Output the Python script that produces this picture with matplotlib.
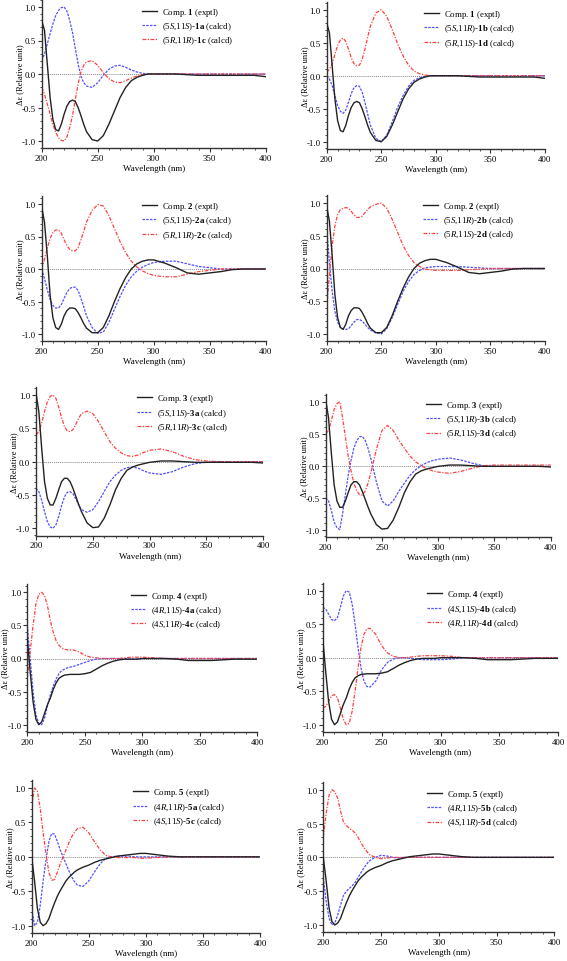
import numpy as np
import matplotlib.pyplot as plt
from matplotlib.ticker import MultipleLocator

plt.rcParams['font.family'] = ['Liberation Serif', 'DejaVu Serif']
plt.rcParams['mathtext.fontset'] = 'custom'
plt.rcParams['mathtext.rm'] = 'Liberation Serif'
plt.rcParams['mathtext.it'] = 'Liberation Serif:italic'
plt.rcParams['mathtext.bf'] = 'Liberation Serif:bold'
plt.rcParams['axes.unicode_minus'] = False

# wavelength grid (nm)
wl = np.array([200, 202.5, 205, 207.5, 210, 212.5, 215, 217.5, 220, 222.5, 225, 227.5, 230, 232.5, 235, 237.5, 240,
               245, 250, 255, 260, 265, 270, 275, 280, 285, 290, 295, 300,
               310, 320, 330, 340, 350, 360, 370, 380, 390, 400])

# experimental ECD curves
comp1 = [0.80, 0.65, 0.15, -0.35, -0.68, -0.83, -0.85, -0.75, -0.60, -0.48, -0.41, -0.39, -0.41, -0.50, -0.62, -0.75, -0.86,
         -0.98, -1.00, -0.92, -0.75, -0.55, -0.35, -0.20, -0.10, -0.05, -0.02, 0.00, 0.00,
         0.00, 0.00, -0.01, -0.02, -0.02, -0.02, -0.02, -0.02, -0.02, -0.04]
comp2 = [0.95, 0.72, 0.20, -0.40, -0.75, -0.90, -0.93, -0.85, -0.72, -0.64, -0.60, -0.60, -0.61, -0.67, -0.75, -0.84, -0.91,
         -0.98, -0.98, -0.90, -0.72, -0.50, -0.30, -0.13, 0.00, 0.08, 0.12, 0.14, 0.14,
         0.09, 0.02, -0.06, -0.08, -0.06, -0.04, -0.01, 0.00, 0.00, 0.00]
comp3 = [1.03, 0.75, 0.20, -0.30, -0.55, -0.65, -0.65, -0.55, -0.42, -0.30, -0.25, -0.25, -0.30, -0.40, -0.52, -0.64, -0.75,
         -0.92, -0.99, -0.98, -0.85, -0.65, -0.42, -0.25, -0.13, -0.08, -0.05, -0.03, -0.01,
         0.01, 0.01, 0.00, -0.01, -0.01, -0.01, -0.01, -0.01, -0.01, -0.02]
comp4 = [0.30, -0.20, -0.65, -0.92, -1.00, -0.96, -0.83, -0.70, -0.60, -0.47, -0.37, -0.30, -0.27, -0.25, -0.245, -0.24, -0.24,
         -0.24, -0.23, -0.21, -0.16, -0.11, -0.07, -0.04, -0.02, -0.01, -0.01, -0.01, 0.00,
         0.00, 0.00, -0.01, -0.03, -0.03, -0.03, -0.02, -0.01, -0.01, -0.01]
comp5 = [0.00, -0.35, -0.75, -0.95, -1.00, -0.97, -0.90, -0.78, -0.67, -0.57, -0.49, -0.42, -0.35, -0.30, -0.26, -0.22, -0.19,
         -0.15, -0.12, -0.08, -0.05, -0.03, -0.01, 0.01, 0.02, 0.03, 0.04, 0.05, 0.05,
         0.03, 0.01, 0.00, 0.00, 0.00, 0.00, 0.00, 0.00, 0.00, 0.00]

# calculated ECD curves
calc_1a = [0.20, 0.30, 0.45, 0.60, 0.75, 0.87, 0.95, 0.99, 1.00, 0.94, 0.80, 0.62, 0.38, 0.15, -0.03, -0.13, -0.18,
           -0.20, -0.13, -0.02, 0.07, 0.12, 0.13, 0.10, 0.06, 0.03, 0.01, 0.00, 0.00,
           0.00, 0.00, 0.00, 0.00, 0.00, 0.00, 0.00, 0.00, 0.00, 0.00]
calc_1c = [-0.20, -0.30, -0.45, -0.60, -0.75, -0.87, -0.95, -0.99, -1.00, -0.94, -0.80, -0.62, -0.38, -0.15, 0.03, 0.13, 0.18,
           0.20, 0.13, 0.02, -0.07, -0.12, -0.13, -0.10, -0.06, -0.03, -0.01, 0.00, 0.00,
           0.00, 0.00, 0.00, 0.00, 0.00, 0.00, 0.00, 0.00, 0.00, 0.00]
calc_1b = [0.00, -0.05, -0.15, -0.30, -0.45, -0.54, -0.57, -0.52, -0.40, -0.27, -0.18, -0.15, -0.16, -0.25, -0.40, -0.58, -0.75,
           -0.95, -1.00, -0.90, -0.70, -0.48, -0.30, -0.16, -0.07, -0.03, -0.01, 0.00, 0.00,
           0.00, 0.00, 0.00, 0.00, 0.00, 0.00, 0.00, 0.00, 0.00, 0.00]
calc_1d = [0.05, 0.10, 0.18, 0.32, 0.46, 0.54, 0.57, 0.52, 0.40, 0.27, 0.18, 0.15, 0.16, 0.25, 0.40, 0.58, 0.75,
           0.95, 1.00, 0.90, 0.70, 0.48, 0.30, 0.16, 0.07, 0.03, 0.01, 0.00, 0.00,
           0.00, 0.00, 0.00, 0.00, 0.00, 0.00, 0.00, 0.00, 0.00, 0.00]
calc_2a = [0.00, -0.15, -0.32, -0.47, -0.56, -0.60, -0.60, -0.55, -0.45, -0.36, -0.30, -0.28, -0.28, -0.33, -0.45, -0.58, -0.72,
           -0.90, -0.99, -0.97, -0.82, -0.62, -0.42, -0.25, -0.12, -0.03, 0.03, 0.07, 0.10,
           0.12, 0.12, 0.08, 0.04, 0.02, 0.00, 0.00, 0.00, 0.00, 0.00]
calc_2c = [0.00, 0.15, 0.32, 0.47, 0.56, 0.60, 0.60, 0.55, 0.45, 0.36, 0.30, 0.28, 0.28, 0.33, 0.45, 0.58, 0.72,
           0.90, 0.99, 0.97, 0.82, 0.62, 0.42, 0.25, 0.12, 0.03, -0.03, -0.07, -0.10,
           -0.12, -0.12, -0.08, -0.04, -0.02, 0.00, 0.00, 0.00, 0.00, 0.00]
calc_2b = [0.60, 0.10, -0.35, -0.65, -0.82, -0.90, -0.92, -0.93, -0.92, -0.87, -0.82, -0.78, -0.78, -0.80, -0.85, -0.90, -0.94,
           -0.98, -1.00, -0.92, -0.75, -0.55, -0.35, -0.20, -0.09, -0.03, 0.01, 0.02, 0.03,
           0.03, 0.03, 0.02, 0.01, 0.00, 0.00, 0.00, 0.00, 0.00, 0.00]
calc_2d = [-0.60, -0.10, 0.35, 0.65, 0.82, 0.90, 0.92, 0.93, 0.92, 0.87, 0.82, 0.78, 0.78, 0.80, 0.85, 0.90, 0.94,
           0.98, 1.00, 0.92, 0.75, 0.55, 0.35, 0.20, 0.09, 0.03, -0.01, -0.02, -0.03,
           -0.03, -0.03, -0.02, -0.01, 0.00, 0.00, 0.00, 0.00, 0.00, 0.00]
calc_3a = [-0.40, -0.45, -0.58, -0.75, -0.90, -0.98, -1.00, -0.95, -0.82, -0.66, -0.53, -0.46, -0.45, -0.48, -0.56, -0.65, -0.72,
           -0.76, -0.72, -0.60, -0.45, -0.30, -0.20, -0.13, -0.09, -0.08, -0.10, -0.14, -0.17,
           -0.19, -0.15, -0.08, -0.03, -0.01, 0.00, 0.00, 0.00, 0.00, 0.00]
calc_3c = [0.40, 0.45, 0.58, 0.75, 0.90, 0.98, 1.00, 0.95, 0.82, 0.66, 0.53, 0.46, 0.45, 0.48, 0.56, 0.65, 0.72,
           0.76, 0.72, 0.60, 0.45, 0.30, 0.20, 0.13, 0.09, 0.08, 0.10, 0.14, 0.17,
           0.19, 0.15, 0.08, 0.03, 0.01, 0.00, 0.00, 0.00, 0.00, 0.00]
calc_3b = [-0.50, -0.55, -0.70, -0.88, -0.97, -1.00, -0.75, -0.45, -0.15, 0.08, 0.27, 0.39, 0.45, 0.46, 0.40, 0.28, 0.12,
           -0.25, -0.55, -0.63, -0.55, -0.40, -0.27, -0.15, -0.06, 0.00, 0.05, 0.08, 0.10,
           0.12, 0.09, 0.04, 0.00, -0.01, -0.01, -0.01, -0.01, -0.01, -0.01]
calc_3d = [0.50, 0.55, 0.70, 0.88, 0.97, 1.00, 0.75, 0.45, 0.15, -0.08, -0.27, -0.39, -0.45, -0.46, -0.40, -0.28, -0.12,
           0.25, 0.55, 0.63, 0.55, 0.40, 0.27, 0.15, 0.06, 0.00, -0.05, -0.08, -0.10,
           -0.12, -0.09, -0.04, 0.00, 0.01, 0.01, 0.01, 0.01, 0.01, 0.01]
calc_4a = [0.50, 0.00, -0.50, -0.85, -0.98, -1.00, -0.90, -0.72, -0.55, -0.42, -0.31, -0.23, -0.18, -0.16, -0.14, -0.13, -0.12,
           -0.09, -0.06, -0.03, -0.01, 0.00, 0.00, 0.00, 0.00, 0.00, -0.01, -0.01, 0.00,
           0.00, 0.00, 0.00, 0.00, 0.00, 0.00, 0.00, 0.00, 0.00, 0.00]
calc_4c = [-0.30, 0.10, 0.50, 0.82, 0.97, 1.00, 0.95, 0.80, 0.58, 0.40, 0.27, 0.20, 0.16, 0.14, 0.13, 0.13, 0.13,
           0.10, 0.05, 0.02, 0.01, 0.00, 0.00, 0.00, 0.00, 0.01, 0.02, 0.02, 0.02,
           0.01, 0.00, 0.00, 0.00, 0.00, 0.00, 0.00, 0.00, 0.00, 0.00]
calc_4b = [0.75, 0.73, 0.65, 0.57, 0.55, 0.60, 0.75, 0.92, 1.00, 0.98, 0.80, 0.50, 0.15, -0.15, -0.35, -0.43, -0.44,
           -0.35, -0.18, -0.07, -0.02, 0.00, 0.00, -0.01, -0.02, -0.03, -0.03, -0.03, -0.03,
           -0.02, 0.00, 0.00, 0.00, 0.00, 0.00, 0.00, 0.00, 0.00, 0.00]
calc_4d = [-0.75, -0.73, -0.65, -0.57, -0.55, -0.60, -0.75, -0.92, -1.00, -0.98, -0.80, -0.50, -0.15, 0.15, 0.35, 0.43, 0.44,
           0.35, 0.18, 0.07, 0.02, 0.00, 0.00, 0.01, 0.02, 0.03, 0.03, 0.03, 0.03,
           0.02, 0.00, 0.00, 0.00, 0.00, 0.00, 0.00, 0.00, 0.00, 0.00]
calc_5a = [-0.75, -1.00, -0.95, -0.70, -0.35, -0.05, 0.22, 0.34, 0.33, 0.22, 0.10, 0.00, -0.10, -0.20, -0.29, -0.36, -0.41,
           -0.43, -0.35, -0.22, -0.10, -0.02, 0.00, 0.01, 0.01, 0.01, 0.00, 0.00, 0.00,
           0.00, 0.00, 0.00, 0.00, 0.00, 0.00, 0.00, 0.00, 0.00, 0.00]
calc_5c = [0.75, 1.00, 0.95, 0.70, 0.35, 0.05, -0.22, -0.34, -0.33, -0.22, -0.10, 0.00, 0.10, 0.20, 0.29, 0.36, 0.41,
           0.43, 0.35, 0.22, 0.10, 0.02, 0.00, -0.01, -0.01, -0.01, -0.01, -0.02, -0.02,
           -0.01, 0.00, 0.00, 0.00, 0.00, 0.00, 0.00, 0.00, 0.00, 0.00]
calc_5b = [-0.30, -0.65, -0.90, -1.00, -0.97, -0.85, -0.70, -0.56, -0.50, -0.46, -0.42, -0.37, -0.30, -0.23, -0.16, -0.10, -0.05,
           0.00, 0.03, 0.02, 0.00, -0.01, 0.00, 0.00, 0.00, 0.00, 0.00, 0.00, 0.00,
           0.00, 0.00, 0.00, 0.00, 0.00, 0.00, 0.00, 0.00, 0.00, 0.00]
calc_5d = [0.30, 0.65, 0.92, 1.00, 0.97, 0.87, 0.68, 0.52, 0.47, 0.43, 0.40, 0.36, 0.30, 0.22, 0.15, 0.09, 0.04,
           0.00, -0.02, -0.01, 0.00, 0.00, 0.00, 0.00, 0.00, 0.00, 0.00, 0.00, 0.00,
           0.00, 0.00, 0.00, 0.00, 0.00, 0.00, 0.00, 0.00, 0.00, 0.00]

exp_labels = ['Comp. $\\mathbf{%d}$ (exptl)' % i for i in range(1, 6)]

panels = [
    (comp1, exp_labels[0], calc_1a, '(5$S$,11$S$)-$\\mathbf{1a}$ (calcd)', calc_1c, '(5$R$,11$R$)-$\\mathbf{1c}$ (calcd)'),
    (comp1, exp_labels[0], calc_1b, '(5$S$,11$R$)-$\\mathbf{1b}$ (calcd)', calc_1d, '(5$R$,11$S$)-$\\mathbf{1d}$ (calcd)'),
    (comp2, exp_labels[1], calc_2a, '(5$S$,11$S$)-$\\mathbf{2a}$ (calcd)', calc_2c, '(5$R$,11$R$)-$\\mathbf{2c}$ (calcd)'),
    (comp2, exp_labels[1], calc_2b, '(5$S$,11$R$)-$\\mathbf{2b}$ (calcd)', calc_2d, '(5$R$,11$S$)-$\\mathbf{2d}$ (calcd)'),
    (comp3, exp_labels[2], calc_3a, '(5$S$,11$S$)-$\\mathbf{3a}$ (calcd)', calc_3c, '(5$R$,11$R$)-$\\mathbf{3c}$ (calcd)'),
    (comp3, exp_labels[2], calc_3b, '(5$S$,11$R$)-$\\mathbf{3b}$ (calcd)', calc_3d, '(5$R$,11$S$)-$\\mathbf{3d}$ (calcd)'),
    (comp4, exp_labels[3], calc_4a, '(4$R$,11$S$)-$\\mathbf{4a}$ (calcd)', calc_4c, '(4$S$,11$R$)-$\\mathbf{4c}$ (calcd)'),
    (comp4, exp_labels[3], calc_4b, '(4$S$,11$S$)-$\\mathbf{4b}$ (calcd)', calc_4d, '(4$R$,11$R$)-$\\mathbf{4d}$ (calcd)'),
    (comp5, exp_labels[4], calc_5a, '(4$R$,11$R$)-$\\mathbf{5a}$ (calcd)', calc_5c, '(4$S$,11$S$)-$\\mathbf{5c}$ (calcd)'),
    (comp5, exp_labels[4], calc_5b, '(4$R$,11$S$)-$\\mathbf{5b}$ (calcd)', calc_5d, '(4$S$,11$R$)-$\\mathbf{5d}$ (calcd)'),
]

# layout in pixels: x of 200 nm, x of 400 nm, y of +1.0, y of -1.0, legend x, legend y
W, H = 567, 962
boxes = [
    (41.7, 265.7, 8.0, 142.0, 141.7, 11.7),
    (326.7, 545.0, 10.7, 142.7, 424.0, 14.0),
    (41.7, 265.7, 205.0, 335.0, 141.7, 206.0),
    (326.7, 545.0, 204.0, 335.0, 423.3, 205.7),
    (36.0, 263.3, 396.0, 529.3, 136.7, 398.3),
    (325.7, 550.7, 402.7, 530.7, 426.0, 405.0),
    (27.3, 257.3, 593.3, 725.7, 130.7, 595.7),
    (322.7, 558.3, 591.7, 725.7, 426.7, 594.3),
    (31.7, 260.0, 789.0, 926.7, 133.3, 792.3),
    (323.3, 554.3, 790.7, 926.0, 426.7, 794.0),
]
ytop, ybot = 1.12, -1.11

fig = plt.figure(figsize=(W / 100, H / 100), dpi=100)

for (exp, exp_lab, blue, blue_lab, red, red_lab), (x0, x1, y1, ym1, lx, ly) in zip(panels, boxes):
    u = (ym1 - y1) / 2
    top_px = y1 - (ytop - 1) * u
    bot_px = ym1 + (-1 - ybot) * u
    ax = fig.add_axes([x0 / W, 1 - bot_px / H, (x1 - x0) / W, (bot_px - top_px) / H])

    ax.axhline(0, color='#888888', lw=0.7, ls=(0, (1, 1)), zorder=1)
    ax.plot(wl, exp, color='#222222', lw=1.0, label=exp_lab, zorder=3)
    ax.plot(wl, blue, color='#5050ff', lw=0.9, ls=(0, (2, 1)), label=blue_lab, zorder=2)
    ax.plot(wl, red, color='#ff4040', lw=0.9, ls=(0, (3, 1.2, 1, 1.2)), label=red_lab, zorder=2)

    ax.set_xlim(200, 400)
    ax.set_ylim(ybot, ytop)
    ax.xaxis.set_major_locator(MultipleLocator(50))
    ax.xaxis.set_minor_locator(MultipleLocator(10))
    ax.yaxis.set_major_locator(MultipleLocator(0.5))
    ax.yaxis.set_minor_locator(MultipleLocator(0.1))
    ax.yaxis.set_major_formatter(plt.FormatStrFormatter('%.1f'))
    for s in ['top', 'right']:
        ax.spines[s].set_visible(False)
    for s in ['left', 'bottom']:
        ax.spines[s].set_linewidth(1.0)
        ax.spines[s].set_color('#333333')
    ax.tick_params(which='major', direction='out', length=3, width=0.8, labelsize=6.3, pad=1.2, color='#333333')
    ax.tick_params(which='minor', direction='out', length=1.5, width=0.6, color='#333333')
    ax.set_xlabel('Wavelength (nm)', fontsize=6.5, labelpad=1.5)
    ax.set_ylabel('Δε (Relative unit)', fontsize=6.0)
    ax.yaxis.set_label_coords(-18.0 / (x1 - x0), 0.5)

    ax.legend(loc='upper left', bbox_to_anchor=(lx / W, 1 - (ly - 5) / H), bbox_transform=fig.transFigure,
              frameon=False, fontsize=6.3, borderpad=0, borderaxespad=0, handlelength=1.7,
              handletextpad=0.6, labelspacing=0.3)

fig.savefig('out.png', dpi=100)
